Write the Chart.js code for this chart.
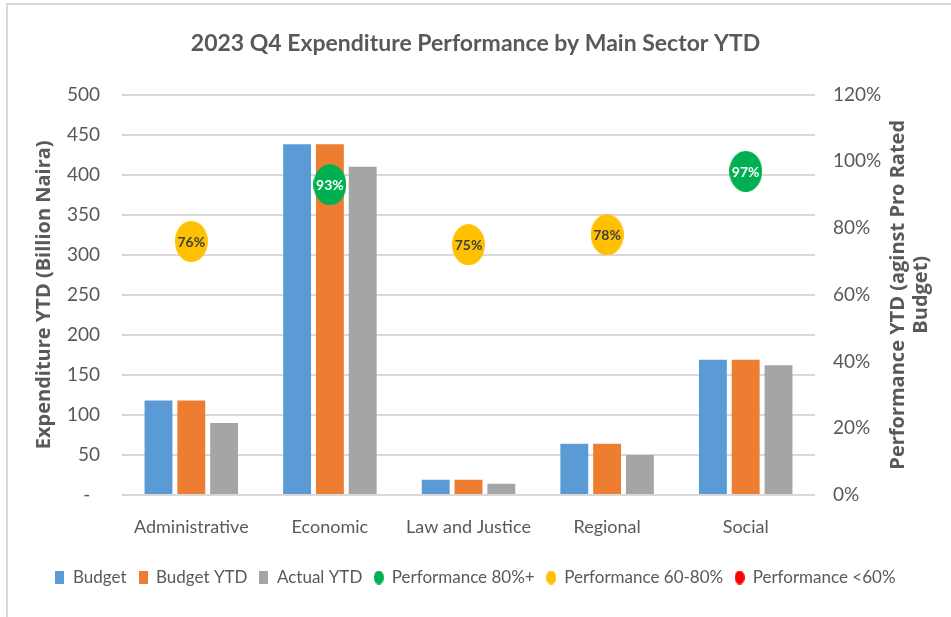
<!DOCTYPE html>
<html>
<head>
<meta charset="utf-8">
<script src="https://cdn.jsdelivr.net/npm/chart.js@4.4.0/dist/chart.umd.min.js"></script>
<style>
  body { margin: 0; background: #fff; }
  #frame { position: absolute; left: 6px; top: 3px; width: 945px; height: 614px;
           border-top: 2px solid #d9d9d9; border-left: 2px solid #d9d9d9; }
  #wrap { position: absolute; left: 0; top: 0; width: 951px; height: 617px; }
</style>
</head>
<body>
<div id="frame"></div>
<div id="wrap"><canvas id="myChart" width="951" height="617"></canvas></div>
<script>
// chart data
var categories = ["Administrative", "Economic", "Law and Justice", "Regional", "Social"];
var budget = [118, 438, 19, 64, 169];
var budgetYtd = [118, 438, 19, 64, 169];
var actualYtd = [90, 410, 14, 50, 162];
var performance = [76, 93, 75, 78, 97]; // percent, right axis

var NARROW = "Lato, 'Open Sans', sans-serif";
var BOLD = "'Open Sans', sans-serif";
var GREY = "#595959";

// split performance dots into colour bands
var perfHigh = performance.map(function (v) { return v >= 80 ? v : null; });
var perfMid = performance.map(function (v) { return v >= 60 && v < 80 ? v : null; });
var perfLow = performance.map(function (v) { return v < 60 ? v : null; });

function ellipse(color, w, h) {
  var c = document.createElement("canvas");
  c.width = w;
  c.height = h;
  var g = c.getContext("2d");
  g.fillStyle = color;
  g.beginPath();
  g.ellipse(w / 2, h / 2, w / 2, h / 2, 0, 0, Math.PI * 2);
  g.fill();
  return c;
}
function box(color, w, h) {
  var c = document.createElement("canvas");
  c.width = w;
  c.height = h;
  var g = c.getContext("2d");
  g.fillStyle = color;
  g.fillRect(0, 0, w, h);
  return c;
}

var GREEN = "#00B050", YELLOW = "#FFC000", RED = "#FF0000";

// labels inside the performance dots
var dotLabels = {
  id: "dotLabels",
  afterDatasetsDraw: function (chart) {
    var ctx = chart.ctx;
    ctx.save();
    ctx.font = "bold 14px " + NARROW;
    ctx.textAlign = "center";
    ctx.textBaseline = "middle";
    [3, 4, 5].forEach(function (di) {
      var meta = chart.getDatasetMeta(di);
      var ds = chart.data.datasets[di];
      meta.data.forEach(function (pt, i) {
        var v = ds.data[i];
        if (v === null) return;
        ctx.fillStyle = di === 4 ? "#404040" : "#ffffff";
        ctx.fillText(v + "%", pt.x, pt.y + 1);
      });
    });
    ctx.restore();
  }
};

// right axis title reads bottom-to-top like the left one
var rightTitle = {
  id: "rightTitle",
  afterDraw: function (chart) {
    var ctx = chart.ctx;
    var area = chart.chartArea;
    var cy = (area.top + area.bottom) / 2;
    ctx.save();
    ctx.font = "bold 20px " + BOLD;
    ctx.fillStyle = GREY;
    ctx.textAlign = "center";
    ctx.textBaseline = "middle";
    [["Performance YTD (aginst Pro Rated", 898], ["Budget)", 921]].forEach(function (l) {
      ctx.save();
      ctx.translate(l[1], cy);
      ctx.rotate(-Math.PI / 2);
      ctx.fillText(l[0], 0, 0);
      ctx.restore();
    });
    ctx.restore();
  }
};

var ctx = document.getElementById("myChart").getContext("2d");
var myChart = new Chart(ctx, {
  type: "bar",
  data: {
    labels: categories,
    datasets: [
      { label: "Budget", data: budget, backgroundColor: "#5B9BD5", order: 1 },
      { label: "Budget YTD", data: budgetYtd, backgroundColor: "#ED7D31", order: 1 },
      { label: "Actual YTD", data: actualYtd, backgroundColor: "#A5A5A5", order: 1 },
      { type: "line", label: "Performance 80%+", data: perfHigh, yAxisID: "y1", showLine: false,
        pointStyle: ellipse(GREEN, 33, 41), backgroundColor: GREEN, borderColor: GREEN, order: 0 },
      { type: "line", label: "Performance 60-80%", data: perfMid, yAxisID: "y1", showLine: false,
        pointStyle: ellipse(YELLOW, 33, 41), backgroundColor: YELLOW, borderColor: YELLOW, order: 0 },
      { type: "line", label: "Performance <60%", data: perfLow, yAxisID: "y1", showLine: false,
        pointStyle: ellipse(RED, 33, 41), backgroundColor: RED, borderColor: RED, order: 0 }
    ]
  },
  options: {
    responsive: false,
    animation: false,
    categoryPercentage: 0.71,
    barPercentage: 0.85,
    layout: { padding: { left: 0, right: 0, top: 0, bottom: 21 } },
    plugins: {
      title: {
        display: true,
        text: "2023 Q4 Expenditure Performance by Main Sector YTD",
        color: GREY,
        font: { family: NARROW, size: 23, weight: "bold" },
        padding: { top: 30, bottom: 37 }
      },
      legend: {
        position: "bottom",
        labels: {
          color: GREY,
          font: { family: NARROW, size: 17 },
          usePointStyle: true,
          boxWidth: 9,
          padding: 12,
          sort: function (a, b) { return a.datasetIndex - b.datasetIndex; },
          generateLabels: function (chart) {
            var colors = ["#5B9BD5", "#ED7D31", "#A5A5A5", GREEN, YELLOW, RED];
            return chart.data.datasets.map(function (ds, i) {
              return {
                text: ds.label,
                datasetIndex: i,
                fontColor: GREY,
                pointStyle: i < 3 ? box(colors[i], 9, 13) : ellipse(colors[i], 10, 14),
                fillStyle: colors[i],
                strokeStyle: colors[i],
                lineWidth: 0
              };
            });
          }
        }
      },
      tooltip: { enabled: false }
    },
    scales: {
      x: {
        grid: { display: false },
        border: { display: false },
        ticks: { color: GREY, font: { family: NARROW, size: 18 }, padding: 13 },
        afterFit: function (s) { s.height = 62; }
      },
      y: {
        position: "left",
        min: 0,
        max: 500,
        ticks: {
          stepSize: 50,
          color: GREY,
          padding: 22,
          font: { family: NARROW, size: 19 },
          callback: function (v) { return v === 0 ? "-  " : v; }
        },
        grid: { color: "#d9d9d9", lineWidth: 2, drawTicks: false },
        border: { display: false },
        title: {
          display: true,
          text: "Expenditure YTD (Billion Naira)",
          color: GREY,
          font: { family: BOLD, size: 20, weight: "bold" },
          padding: { top: 32 }
        },
        afterFit: function (s) { s.width = 122; }
      },
      y1: {
        position: "right",
        min: 0,
        max: 120,
        ticks: {
          stepSize: 20,
          color: GREY,
          padding: 18,
          font: { family: NARROW, size: 19 },
          callback: function (v) { return v + "%"; }
        },
        grid: { display: false, drawTicks: false },
        border: { display: false },
        afterFit: function (s) { s.width = 136; }
      }
    }
  },
  plugins: [dotLabels, rightTitle]
});
</script>
</body>
</html>
